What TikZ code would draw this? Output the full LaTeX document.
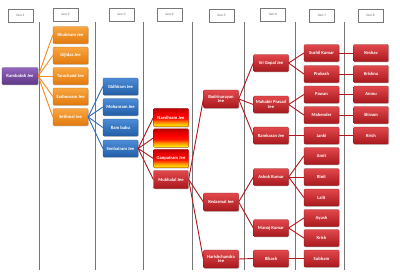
\documentclass[tikz,border=0pt]{standalone}
\usepackage{fontspec}
\newfontfamily\boxfont{Carlito}
\usetikzlibrary{shadows}

\definecolor{redtop}{HTML}{E2484C}
\definecolor{redbot}{HTML}{A8191E}
\definecolor{orangetop}{HTML}{F9A640}
\definecolor{orangebot}{HTML}{E27A0E}
\definecolor{bluetop}{HTML}{4C8CD6}
\definecolor{bluebot}{HTML}{235EA8}
\definecolor{purpletop}{HTML}{9366BD}
\definecolor{purplebot}{HTML}{5E3886}
\definecolor{redline}{HTML}{B0161C}
\definecolor{orangeline}{HTML}{F28A1C}
\definecolor{blueline}{HTML}{2B6CC0}
\definecolor{divider}{HTML}{767676}

\pgfdeclareverticalshading{fire}{100bp}{color(0bp)=(yellow); color(25bp)=(yellow);
  color(36bp)=(orange!80!yellow); color(46bp)=(red!80!orange); color(55bp)=(red);
  color(68bp)=(red!85!black); color(75bp)=(red!70!black); color(100bp)=(red!70!black)}

\tikzset{
  person/.style={rectangle, rounded corners=1pt, minimum width=35pt, minimum height=17pt,
    inner sep=0.5pt, align=center, text=white,
    font=\boxfont\bfseries\fontsize{4.6}{4.8}\selectfont,
    drop shadow={opacity=0.35, shadow xshift=0.8pt, shadow yshift=-0.8pt}},
  redbox/.style={person, draw=redbot!80!black, line width=0.3pt, top color=redtop, bottom color=redbot},
  orangebox/.style={person, draw=orangebot!85!black, line width=0.3pt, top color=orangetop, bottom color=orangebot},
  bluebox/.style={person, draw=bluebot!85!black, line width=0.3pt, top color=bluetop, bottom color=bluebot},
  purplebox/.style={person, draw=purplebot!85!black, line width=0.3pt, top color=purpletop, bottom color=purplebot, minimum width=36pt},
  firebox/.style={person, draw=red!60!black, line width=0.3pt, minimum height=18.5pt, shading=fire},
  genbox/.style={rectangle, draw=divider, line width=0.4pt, fill=white, minimum width=25pt,
    minimum height=13pt, inner sep=0pt, text=divider!90!black, font=\boxfont\fontsize{3.4}{4}\selectfont},
  divline/.style={divider, line width=0.55pt},
  kin/.style={line width=0.9pt},
}

\begin{document}
\begin{tikzpicture}[x=1pt, y=-1pt]

    \useasboundingbox[fill=white] (0,0) rectangle (400,276);

    % Generation headers
    \node[genbox] (g1) at (20.5,15.5) {Gen-1};
    \node[genbox] (g2) at (65.5,14.5) {Gen-2};
    \node[genbox] (g3) at (121.5,14.5) {Gen-3};
    \node[genbox] (g4) at (169.5,14.5) {Gen-4};
    \node[genbox] (g5) at (221.5,15.5) {Gen-5};
    \node[genbox] (g6) at (273,14.5) {Gen-6};
    \node[genbox] (g7) at (322,15.5) {Gen-7};
    \node[genbox] (g8) at (370.5,15.5) {Gen-8};

    % Column dividers
    \foreach \x in {39.5,95,143,192,244,295,344}
        \draw[divline] (\x,22) -- (\x,270);

    % Gen-1
    \node[purplebox] (rambaksh) at (20,76) {Rambaksh Jee};

    % Gen-2
    \node[orangebox] (khubiram) at (70.5,35) {Khubiram Jee};
    \node[orangebox] (gijidas) at (70.5,55.5) {Gijidas Jee};
    \node[orangebox] (tarachand) at (70.5,76) {Tarachand Jee};
    \node[orangebox] (sarbooram) at (70.5,96.5) {Sarbooram Jee};
    \node[orangebox] (sethmal) at (70.5,117) {Sethmal Jee};

    % Gen-3
    \node[bluebox] (gidhiram) at (120.5,86.5) {Gidhiram Jee};
    \node[bluebox] (mohanram) at (120.5,107) {Mohanram Jee};
    \node[bluebox] (rambabu) at (120.5,127.5) {Ram babu};
    \node[bluebox] (senhairam) at (120.5,148.5) {Senhairam Jee};

    % Gen-4
    \node[firebox] (narsihram) at (171,117.5) {Narsihram Jee};
    \node[firebox] (blank) at (171,138) {};
    \node[firebox] (ganpatram) at (171,158.5) {Ganpatram Jee};
    \node[redbox, minimum height=18pt] (mukhalal) at (171,179.5) {Mukhalal Jee};

    % Gen-5
    \node[redbox, minimum height=18pt] (badri) at (221,99) {Badrinarayan\\Jee};
    \node[redbox, minimum height=18pt] (kedarmal) at (221,202) {Kedarmal Jee};
    \node[redbox, minimum height=18pt] (harish) at (221,259) {Harishchandra\\Jee};

    % Gen-6
    \node[redbox] (srigopal) at (271,63) {Sri Gopal Jee};
    \node[redbox] (mahabir) at (271,104.5) {Mahabir Prasad\\Jee};
    \node[redbox] (ramkaran) at (271,135.5) {Ramkaran Jee};
    \node[redbox] (ashok) at (271,177) {Ashok Kumar};
    \node[redbox] (manoj) at (271,228) {Manoj Kumar};
    \node[redbox] (bikash) at (271,258.5) {Bikash};

    % Gen-7
    \node[redbox] (sushil) at (321.5,53) {Sushil Kumar};
    \node[redbox] (prakash) at (321.5,74) {Prakash};
    \node[redbox] (pawan) at (321.5,94.5) {Pawan};
    \node[redbox] (mahender) at (321.5,115) {Mahender};
    \node[redbox] (janki) at (321.5,135.5) {Janki};
    \node[redbox] (amit) at (321.5,156) {Amit};
    \node[redbox] (binit) at (321.5,177) {Binit};
    \node[redbox] (lalit) at (321.5,197.5) {Lalit};
    \node[redbox] (ayush) at (321.5,218) {Ayush};
    \node[redbox] (krishB) at (321.5,238) {Krish};
    \node[redbox] (subham) at (321.5,258.5) {Subham};

    % Gen-8
    \node[redbox] (keshav) at (371,53) {Keshav};
    \node[redbox] (krishna) at (371,74) {Krishna};
    \node[redbox] (anmu) at (371,94.5) {Anmu};
    \node[redbox] (shivam) at (371,115) {Shivam};
    \node[redbox] (krishA) at (371,135.5) {Krish};

    % Family lines
    \foreach \c in {khubiram,gijidas,tarachand,sarbooram,sethmal}
        \draw[kin, orangeline] (rambaksh.east) -- (\c.west);
    \foreach \c in {gidhiram,mohanram,rambabu,senhairam}
        \draw[kin, blueline] (sethmal.east) -- (\c.west);
    \foreach \c in {narsihram,blank,ganpatram,mukhalal}
        \draw[kin, redline] (senhairam.east) -- (\c.west);
    \foreach \c in {badri,kedarmal,harish}
        \draw[kin, redline] (mukhalal.east) -- (\c.west);
    \foreach \c in {srigopal,mahabir,ramkaran}
        \draw[kin, redline] (badri.east) -- (\c.west);
    \foreach \c in {ashok,manoj}
        \draw[kin, redline] (kedarmal.east) -- (\c.west);
    \draw[kin, redline] (harish.east) -- (bikash.west);
    \foreach \c in {sushil,prakash}
        \draw[kin, redline] (srigopal.east) -- (\c.west);
    \foreach \c in {pawan,mahender}
        \draw[kin, redline] (mahabir.east) -- (\c.west);
    \draw[kin, redline] (ramkaran.east) -- (janki.west);
    \foreach \c in {amit,binit,lalit}
        \draw[kin, redline] (ashok.east) -- (\c.west);
    \foreach \c in {ayush,krishB}
        \draw[kin, redline] (manoj.east) -- (\c.west);
    \draw[kin, redline] (bikash.east) -- (subham.west);

    % Gen-7 to Gen-8
    \draw[kin, redline] (sushil.east) -- (keshav.west);
    \draw[kin, redline] (prakash.east) -- (krishna.west);
    \draw[kin, redline] (pawan.east) -- (anmu.west);
    \draw[kin, redline] (mahender.east) -- (shivam.west);
    \draw[kin, redline] (janki.east) -- (krishA.west);

\end{tikzpicture}
\end{document}
